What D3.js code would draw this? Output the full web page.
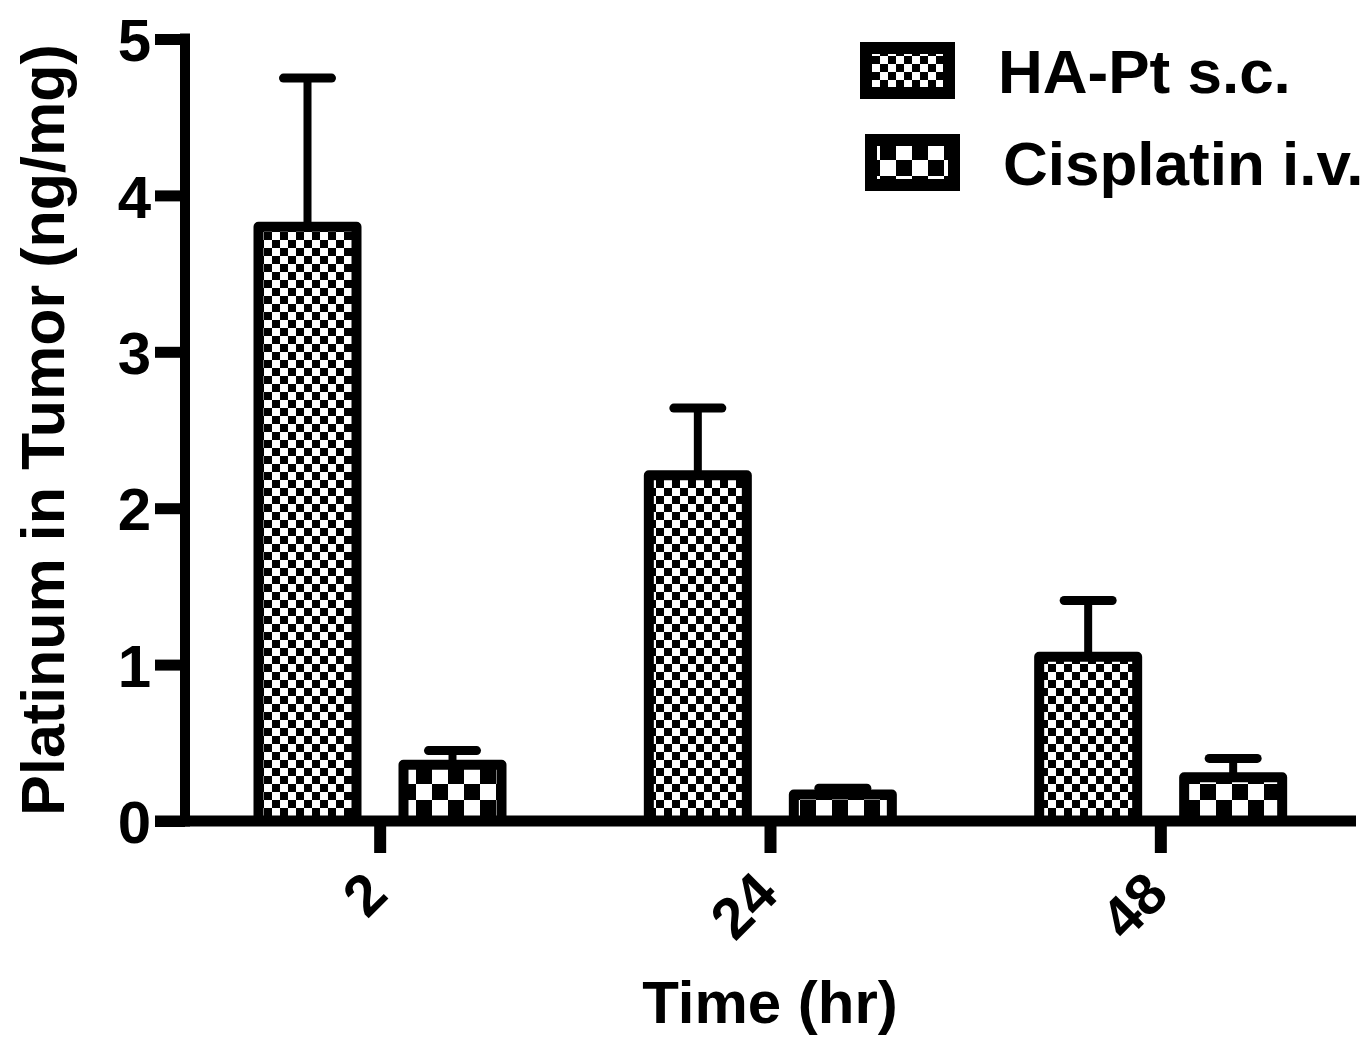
<!DOCTYPE html>
<html>
<head>
<meta charset="utf-8">
<script src="https://cdn.jsdelivr.net/npm/d3@7"></script>
<style>
  body { margin: 0; background: #fff; }
  text { font-family: "Liberation Sans", Arial, sans-serif; font-weight: bold; fill: #000; }
</style>
</head>
<body>
<div id="chart"></div>
<script>
// data
var times = ["2", "24", "48"];
var seriesNames = ["HA-Pt s.c.", "Cisplatin i.v."];
var haptMean = [3.80, 2.21, 1.05];
var haptSD = [0.95, 0.43, 0.36];
var cisMean = [0.36, 0.17, 0.28];
var cisSD = [0.09, 0.04, 0.12];
var yTicks = [0, 1, 2, 3, 4, 5];

var width = 1365, height = 1042;

var svg = d3.select("#chart")
  .append("svg")
  .attr("width", width)
  .attr("height", height);

// checker patterns: fine for HA-Pt, coarse for cisplatin
var defs = svg.append("defs");
function checker(id, c) {
  var p = defs.append("pattern")
    .attr("id", id)
    .attr("patternUnits", "userSpaceOnUse")
    .attr("width", c * 2)
    .attr("height", c * 2);
  p.append("rect").attr("width", c * 2).attr("height", c * 2).attr("fill", "#fff");
  p.append("rect").attr("width", c).attr("height", c).attr("fill", "#000");
  p.append("rect").attr("x", c).attr("y", c).attr("width", c).attr("height", c).attr("fill", "#000");
}
checker("fine", 8);
checker("coarse", 16);
var fills = ["url(#fine)", "url(#coarse)"];

var x = d3.scaleBand().domain(times).range([185, 1356]).padding(0);
var xSub = d3.scaleBand().domain(seriesNames).range([50, 340]).padding(0);
var y = d3.scaleLinear().domain([0, 5]).range([821, 39]);

var barW = 98;

var rows = times.map(function (t, i) {
  return [
    { t: t, s: seriesNames[0], mean: haptMean[i], sd: haptSD[i], k: 0 },
    { t: t, s: seriesNames[1], mean: cisMean[i], sd: cisSD[i], k: 1 }
  ];
}).flat();

function cx(d) { return x(d.t) + xSub(d.s) + xSub.bandwidth() / 2; }

// error bars (upper only)
var err = svg.append("g");
err.selectAll("line.stem")
  .data(rows)
  .enter()
  .append("line")
  .attr("x1", cx).attr("x2", cx)
  .attr("y1", function (d) { return y(d.mean); })
  .attr("y2", function (d) { return y(d.mean + d.sd); })
  .style("stroke", "#000")
  .style("stroke-width", 8);
err.selectAll("line.cap")
  .data(rows)
  .enter()
  .append("line")
  .attr("x1", function (d) { return cx(d) - 24; })
  .attr("x2", function (d) { return cx(d) + 24; })
  .attr("y1", function (d) { return y(d.mean + d.sd); })
  .attr("y2", function (d) { return y(d.mean + d.sd); })
  .style("stroke", "#000")
  .style("stroke-width", 9)
  .style("stroke-linecap", "round");

// bars
svg.append("g")
  .selectAll("rect")
  .data(rows)
  .enter()
  .append("rect")
  .attr("x", function (d) { return cx(d) - barW / 2; })
  .attr("width", barW)
  .attr("y", function (d) { return y(d.mean); })
  .attr("height", function (d) { return y(0) - y(d.mean); })
  .style("fill", function (d) { return fills[d.k]; })
  .style("stroke", "#000")
  .style("stroke-width", 10)
  .style("stroke-linejoin", "round");

// y axis
var yAxis = svg.append("g")
  .attr("transform", "translate(185,0)")
  .call(d3.axisLeft(y).tickValues(yTicks).tickFormat(d3.format("d")).tickSize(30).tickPadding(4));
yAxis.select(".domain").remove();
yAxis.selectAll(".tick line").style("stroke", "#000").style("stroke-width", 11);
yAxis.selectAll(".tick text").style("font-size", "60px").attr("dy", "0.36em");
svg.append("line")
  .attr("x1", 185).attr("x2", 185)
  .attr("y1", y(5) - 5.5).attr("y2", y(0) + 5.5)
  .style("stroke", "#000").style("stroke-width", 10);

// x axis
var xAxis = svg.append("g")
  .attr("transform", "translate(0,821)")
  .call(d3.axisBottom(x).tickSize(32).tickPadding(0));
xAxis.select(".domain").remove();
xAxis.selectAll(".tick line").style("stroke", "#000").style("stroke-width", 12);
xAxis.selectAll(".tick text")
  .style("font-size", "58px")
  .style("text-anchor", "end")
  .attr("dy", 0)
  .attr("y", 0)
  .attr("transform", "translate(10,76) rotate(-45)");
svg.append("line")
  .attr("x1", 155).attr("x2", 1356)
  .attr("y1", 821).attr("y2", 821)
  .style("stroke", "#000").style("stroke-width", 11);

// axis titles
svg.append("text")
  .attr("x", 770).attr("y", 1023)
  .style("text-anchor", "middle")
  .style("font-size", "60px")
  .text("Time (hr)");
svg.append("text")
  .attr("transform", "translate(64,430) rotate(-90)")
  .style("text-anchor", "middle")
  .style("font-size", "61px")
  .text("Platinum in Tumor (ng/mg)");

// legend
var legend = svg.append("g")
  .selectAll("g")
  .data(seriesNames)
  .enter()
  .append("g");
var legBox = [[866, 48], [871, 140]];
var legText = [[998, 93], [1003, 185]];
legend.append("rect")
  .attr("x", function (d, i) { return legBox[i][0]; })
  .attr("y", function (d, i) { return legBox[i][1]; })
  .attr("width", 83)
  .attr("height", 45)
  .style("fill", function (d, i) { return fills[i]; })
  .style("stroke", "#000")
  .style("stroke-width", 12);
legend.append("text")
  .attr("x", function (d, i) { return legText[i][0]; })
  .attr("y", function (d, i) { return legText[i][1]; })
  .style("font-size", "62px")
  .text(function (d) { return d; });
</script>
</body>
</html>
